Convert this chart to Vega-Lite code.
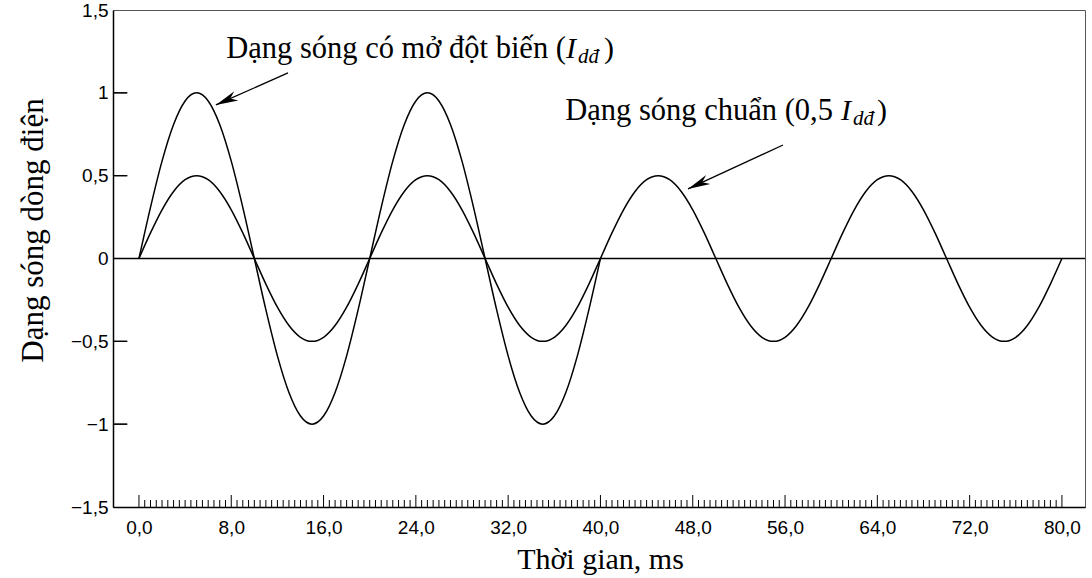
{
  "$schema": "https://vega.github.io/schema/vega-lite/v6.json",
  "width": 972,
  "height": 497,
  "autosize": "none",
  "padding": {"left": 113, "top": 10, "right": 7, "bottom": 71},
  "background": "white",
  "config": {"view": {"stroke": "#555", "strokeWidth": 1}},
  "layer": [
    {
      "data": {"values": [
        {"t":0,"v":0,"s":"b"},{"t":1,"v":0.309,"s":"b"},{"t":2,"v":0.5878,"s":"b"},{"t":3,"v":0.809,"s":"b"},{"t":4,"v":0.9511,"s":"b"},{"t":5,"v":1,"s":"b"},{"t":6,"v":0.9511,"s":"b"},{"t":7,"v":0.809,"s":"b"},{"t":8,"v":0.5878,"s":"b"},{"t":9,"v":0.309,"s":"b"},
        {"t":10,"v":0,"s":"b"},{"t":11,"v":-0.309,"s":"b"},{"t":12,"v":-0.5878,"s":"b"},{"t":13,"v":-0.809,"s":"b"},{"t":14,"v":-0.9511,"s":"b"},{"t":15,"v":-1,"s":"b"},{"t":16,"v":-0.9511,"s":"b"},{"t":17,"v":-0.809,"s":"b"},{"t":18,"v":-0.5878,"s":"b"},{"t":19,"v":-0.309,"s":"b"},
        {"t":20,"v":0,"s":"b"},{"t":21,"v":0.309,"s":"b"},{"t":22,"v":0.5878,"s":"b"},{"t":23,"v":0.809,"s":"b"},{"t":24,"v":0.9511,"s":"b"},{"t":25,"v":1,"s":"b"},{"t":26,"v":0.9511,"s":"b"},{"t":27,"v":0.809,"s":"b"},{"t":28,"v":0.5878,"s":"b"},{"t":29,"v":0.309,"s":"b"},
        {"t":30,"v":0,"s":"b"},{"t":31,"v":-0.309,"s":"b"},{"t":32,"v":-0.5878,"s":"b"},{"t":33,"v":-0.809,"s":"b"},{"t":34,"v":-0.9511,"s":"b"},{"t":35,"v":-1,"s":"b"},{"t":36,"v":-0.9511,"s":"b"},{"t":37,"v":-0.809,"s":"b"},{"t":38,"v":-0.5878,"s":"b"},{"t":39,"v":-0.309,"s":"b"},
        {"t":40,"v":0,"s":"b"},
        {"t":0,"v":0,"s":"a"},{"t":1,"v":0.1545,"s":"a"},{"t":2,"v":0.2939,"s":"a"},{"t":3,"v":0.4045,"s":"a"},{"t":4,"v":0.4755,"s":"a"},{"t":5,"v":0.5,"s":"a"},{"t":6,"v":0.4755,"s":"a"},{"t":7,"v":0.4045,"s":"a"},{"t":8,"v":0.2939,"s":"a"},{"t":9,"v":0.1545,"s":"a"},
        {"t":10,"v":0,"s":"a"},{"t":11,"v":-0.1545,"s":"a"},{"t":12,"v":-0.2939,"s":"a"},{"t":13,"v":-0.4045,"s":"a"},{"t":14,"v":-0.4755,"s":"a"},{"t":15,"v":-0.5,"s":"a"},{"t":16,"v":-0.4755,"s":"a"},{"t":17,"v":-0.4045,"s":"a"},{"t":18,"v":-0.2939,"s":"a"},{"t":19,"v":-0.1545,"s":"a"},
        {"t":20,"v":0,"s":"a"},{"t":21,"v":0.1545,"s":"a"},{"t":22,"v":0.2939,"s":"a"},{"t":23,"v":0.4045,"s":"a"},{"t":24,"v":0.4755,"s":"a"},{"t":25,"v":0.5,"s":"a"},{"t":26,"v":0.4755,"s":"a"},{"t":27,"v":0.4045,"s":"a"},{"t":28,"v":0.2939,"s":"a"},{"t":29,"v":0.1545,"s":"a"},
        {"t":30,"v":0,"s":"a"},{"t":31,"v":-0.1545,"s":"a"},{"t":32,"v":-0.2939,"s":"a"},{"t":33,"v":-0.4045,"s":"a"},{"t":34,"v":-0.4755,"s":"a"},{"t":35,"v":-0.5,"s":"a"},{"t":36,"v":-0.4755,"s":"a"},{"t":37,"v":-0.4045,"s":"a"},{"t":38,"v":-0.2939,"s":"a"},{"t":39,"v":-0.1545,"s":"a"},
        {"t":40,"v":0,"s":"a"},{"t":41,"v":0.1545,"s":"a"},{"t":42,"v":0.2939,"s":"a"},{"t":43,"v":0.4045,"s":"a"},{"t":44,"v":0.4755,"s":"a"},{"t":45,"v":0.5,"s":"a"},{"t":46,"v":0.4755,"s":"a"},{"t":47,"v":0.4045,"s":"a"},{"t":48,"v":0.2939,"s":"a"},{"t":49,"v":0.1545,"s":"a"},
        {"t":50,"v":0,"s":"a"},{"t":51,"v":-0.1545,"s":"a"},{"t":52,"v":-0.2939,"s":"a"},{"t":53,"v":-0.4045,"s":"a"},{"t":54,"v":-0.4755,"s":"a"},{"t":55,"v":-0.5,"s":"a"},{"t":56,"v":-0.4755,"s":"a"},{"t":57,"v":-0.4045,"s":"a"},{"t":58,"v":-0.2939,"s":"a"},{"t":59,"v":-0.1545,"s":"a"},
        {"t":60,"v":0,"s":"a"},{"t":61,"v":0.1545,"s":"a"},{"t":62,"v":0.2939,"s":"a"},{"t":63,"v":0.4045,"s":"a"},{"t":64,"v":0.4755,"s":"a"},{"t":65,"v":0.5,"s":"a"},{"t":66,"v":0.4755,"s":"a"},{"t":67,"v":0.4045,"s":"a"},{"t":68,"v":0.2939,"s":"a"},{"t":69,"v":0.1545,"s":"a"},
        {"t":70,"v":0,"s":"a"},{"t":71,"v":-0.1545,"s":"a"},{"t":72,"v":-0.2939,"s":"a"},{"t":73,"v":-0.4045,"s":"a"},{"t":74,"v":-0.4755,"s":"a"},{"t":75,"v":-0.5,"s":"a"},{"t":76,"v":-0.4755,"s":"a"},{"t":77,"v":-0.4045,"s":"a"},{"t":78,"v":-0.2939,"s":"a"},{"t":79,"v":-0.1545,"s":"a"},
        {"t":80,"v":0,"s":"a"}
      ]},
      "mark": {"type": "line", "color": "black", "strokeWidth": 1.5, "interpolate": "monotone"},
      "encoding": {
        "detail": {"field": "s"},
        "x": {
          "field": "t", "type": "quantitative",
          "scale": {"domain": [-2.25, 82], "nice": false, "zero": false},
          "axis": {
            "values": [0,8,16,24,32,40,48,56,64,72,80],
            "title": "Thời gian, ms",
            "titleFont": "Liberation Serif", "titleFontSize": 30, "titleFontWeight": "normal", "titleColor": "black",
            "titleX": 487, "titleY": 61, "titleBaseline": "alphabetic", "titleAlign": "center",
            "labelExpr": "replace(format(datum.value, '.1f'), '.', ',')",
            "labelFont": "Liberation Sans", "labelFontSize": 19, "labelColor": "black",
            "labelOverlap": false, "labelFlush": false, "labelPadding": 11,
            "ticks": false,
            "domainColor": "black", "domainWidth": 1.5, "grid": false
          }
        },
        "y": {
          "field": "v", "type": "quantitative",
          "scale": {"domain": [-1.5, 1.5], "nice": false, "zero": false},
          "axis": {
            "values": [-1.5,-1,-0.5,0,0.5,1,1.5],
            "title": "Dạng sóng dòng điện",
            "titleFont": "Liberation Serif", "titleFontSize": 31, "titleFontWeight": "normal", "titleColor": "black",
            "titleX": -71, "titleY": 220, "titleBaseline": "alphabetic", "titleAlign": "center", "titleAngle": -90,
            "labelExpr": "replace(format(datum.value, '.1~f'), '.', ',')",
            "labelFont": "Liberation Sans", "labelFontSize": 19, "labelColor": "black",
            "labelOverlap": false, "labelFlush": false, "labelPadding": 5,
            "ticks": false,
            "domainColor": "black", "domainWidth": 1.5, "grid": false
          }
        }
      }
    },
    {
      "data": {"values": [0.5,1,1.5,2,2.5,3,3.5,4,4.5,5,5.5,6,6.5,7,7.5,8.5,9,9.5,10,10.5,11,11.5,12,12.5,13,13.5,14,14.5,15,15.5,16.5,17,17.5,18,18.5,19,19.5,20,20.5,21,21.5,22,22.5,23,23.5,24.5,25,25.5,26,26.5,27,27.5,28,28.5,29,29.5,30,30.5,31,31.5,32.5,33,33.5,34,34.5,35,35.5,36,36.5,37,37.5,38,38.5,39,39.5,40.5,41,41.5,42,42.5,43,43.5,44,44.5,45,45.5,46,46.5,47,47.5,48.5,49,49.5,50,50.5,51,51.5,52,52.5,53,53.5,54,54.5,55,55.5,56.5,57,57.5,58,58.5,59,59.5,60,60.5,61,61.5,62,62.5,63,63.5,64.5,65,65.5,66,66.5,67,67.5,68,68.5,69,69.5,70,70.5,71,71.5,72.5,73,73.5,74,74.5,75,75.5,76,76.5,77,77.5,78,78.5,79,79.5]},
      "mark": {"type": "tick", "orient": "vertical", "size": 7, "thickness": 1, "yOffset": -3.5, "color": "black", "opacity": 1},
      "encoding": {"x": {"field": "data", "type": "quantitative"}, "y": {"datum": -1.5, "type": "quantitative"}}
    },
    {
      "data": {"values": [0,8,16,24,32,40,48,56,64,72,80]},
      "mark": {"type": "tick", "orient": "vertical", "size": 12, "thickness": 1, "yOffset": -6, "color": "black", "opacity": 1},
      "encoding": {"x": {"field": "data", "type": "quantitative"}, "y": {"datum": -1.5, "type": "quantitative"}}
    },
    {
      "data": {"values": [{"p": -1}, {"p": -0.5}, {"p": 0.5}, {"p": 1}]},
      "mark": {"type": "tick", "orient": "horizontal", "size": 14, "thickness": 1.2, "color": "black", "opacity": 1},
      "encoding": {"y": {"field": "p", "type": "quantitative"}, "x": {"datum": -1.65, "type": "quantitative"}}
    },
    {
      "data": {"values": [{"p": -1}, {"p": -0.5}, {"p": 0.5}, {"p": 1}]},
      "mark": {"type": "rule", "strokeWidth": 1.2, "color": "black", "opacity": 1},
      "encoding": {"y": {"field": "p", "type": "quantitative"}, "x": {"datum": -2.2, "type": "quantitative"}, "x2": {"datum": -1.0}}
    },
    {
      "data": {"values": [{}]},
      "mark": {"type": "rule", "color": "black", "strokeWidth": 1.5},
      "encoding": {"y": {"datum": 0, "type": "quantitative"}}
    },
    {
      "data": {"values": [{}]},
      "mark": {"type": "rule", "color": "black", "strokeWidth": 1.3},
      "encoding": {"x": {"datum": 12.92, "type": "quantitative"}, "y": {"datum": 1.12, "type": "quantitative"}, "x2": {"datum": 6.67}, "y2": {"datum": 0.927}}
    },
    {
      "data": {"values": [{}]},
      "mark": {"type": "rule", "color": "black", "strokeWidth": 1.3},
      "encoding": {"x": {"datum": 55.82, "type": "quantitative"}, "y": {"datum": 0.685, "type": "quantitative"}, "x2": {"datum": 47.59}, "y2": {"datum": 0.42}}
    },
    {
      "data": {"values": [{}]},
      "mark": {"type": "point", "shape": "M0,0 L-2,-0.45 L-1.4,0 L-2,0.45 Z", "filled": true, "color": "black", "opacity": 1, "size": 500, "angle": 156},
      "encoding": {"x": {"datum": 6.67, "type": "quantitative"}, "y": {"datum": 0.927, "type": "quantitative"}}
    },
    {
      "data": {"values": [{}]},
      "mark": {"type": "point", "shape": "M0,0 L-2,-0.45 L-1.4,0 L-2,0.45 Z", "filled": true, "color": "black", "opacity": 1, "size": 500, "angle": 155},
      "encoding": {"x": {"datum": 47.59, "type": "quantitative"}, "y": {"datum": 0.42, "type": "quantitative"}}
    },
    {
      "data": {"values": [{}]},
      "mark": {"type": "text", "text": "Dạng sóng có mở đột biến (", "font": "Liberation Serif", "fontSize": 30.5, "align": "right", "baseline": "alphabetic", "color": "black"},
      "encoding": {"x": {"datum": 37.01, "type": "quantitative"}, "y": {"datum": 1.21, "type": "quantitative"}}
    },
    {
      "data": {"values": [{}]},
      "mark": {"type": "text", "text": "I", "font": "Liberation Serif", "fontSize": 30, "fontStyle": "italic", "align": "left", "baseline": "alphabetic", "color": "black", "dx": 0},
      "encoding": {"x": {"datum": 37.01, "type": "quantitative"}, "y": {"datum": 1.21, "type": "quantitative"}}
    },
    {
      "data": {"values": [{}]},
      "mark": {"type": "text", "text": "dđ", "font": "Liberation Serif", "fontSize": 21, "fontStyle": "italic", "align": "left", "baseline": "alphabetic", "color": "black", "dx": 12, "dy": 5},
      "encoding": {"x": {"datum": 37.01, "type": "quantitative"}, "y": {"datum": 1.21, "type": "quantitative"}}
    },
    {
      "data": {"values": [{}]},
      "mark": {"type": "text", "text": ")", "font": "Liberation Serif", "fontSize": 30, "align": "left", "baseline": "alphabetic", "color": "black", "dx": 38},
      "encoding": {"x": {"datum": 37.01, "type": "quantitative"}, "y": {"datum": 1.21, "type": "quantitative"}}
    },
    {
      "data": {"values": [{}]},
      "mark": {"type": "text", "text": "Dạng sóng chuẩn (0,5", "font": "Liberation Serif", "fontSize": 30.5, "align": "right", "baseline": "alphabetic", "color": "black"},
      "encoding": {"x": {"datum": 60.15, "type": "quantitative"}, "y": {"datum": 0.836, "type": "quantitative"}}
    },
    {
      "data": {"values": [{}]},
      "mark": {"type": "text", "text": "I", "font": "Liberation Serif", "fontSize": 30, "fontStyle": "italic", "align": "left", "baseline": "alphabetic", "color": "black", "dx": 8},
      "encoding": {"x": {"datum": 60.15, "type": "quantitative"}, "y": {"datum": 0.836, "type": "quantitative"}}
    },
    {
      "data": {"values": [{}]},
      "mark": {"type": "text", "text": "dđ", "font": "Liberation Serif", "fontSize": 21, "fontStyle": "italic", "align": "left", "baseline": "alphabetic", "color": "black", "dx": 20, "dy": 5},
      "encoding": {"x": {"datum": 60.15, "type": "quantitative"}, "y": {"datum": 0.836, "type": "quantitative"}}
    },
    {
      "data": {"values": [{}]},
      "mark": {"type": "text", "text": ")", "font": "Liberation Serif", "fontSize": 30, "align": "left", "baseline": "alphabetic", "color": "black", "dx": 44},
      "encoding": {"x": {"datum": 60.15, "type": "quantitative"}, "y": {"datum": 0.836, "type": "quantitative"}}
    }
  ]
}
